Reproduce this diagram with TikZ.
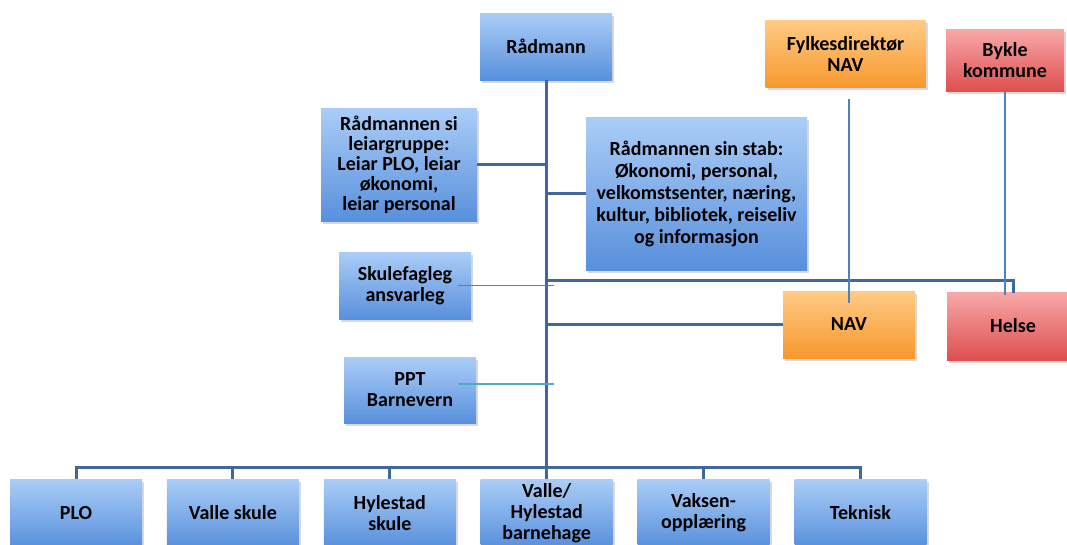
\documentclass[tikz,border=0pt]{standalone}
\usepackage{fontspec}
\setmainfont{Carlito}
\usetikzlibrary{positioning,shadows}
\definecolor{bluetop}{HTML}{ABCDF7}
\definecolor{bluebot}{HTML}{5890DC}
\definecolor{orangetop}{HTML}{FFCB85}
\definecolor{orangebot}{HTML}{F7982E}
\definecolor{redtop}{HTML}{F8A8A8}
\definecolor{redbot}{HTML}{DE4F4F}
\definecolor{trunkcol}{HTML}{41689A}
\definecolor{thincol}{HTML}{4F81BD}
\definecolor{tealcol}{HTML}{4BACC6}
\begin{document}
\begin{tikzpicture}[x=1pt, y=-1pt, node distance=24.5pt,
    unitbox/.style = {top color=bluetop, bottom color=bluebot, minimum width=132pt, minimum height=67pt,
        align=center, inner sep=1pt, font=\fontsize{20}{21}\selectfont\bfseries,
        drop shadow={shadow xshift=2pt, shadow yshift=-2.5pt, opacity=0.3}},
    navbox/.style = {unitbox, top color=orangetop, bottom color=orangebot},
    bykbox/.style = {unitbox, top color=redtop, bottom color=redbot},
    trunk/.style = {draw=trunkcol, line width=3pt},
    thinline/.style = {draw=thincol, line width=1.8pt}]
    \useasboundingbox (0,0) rectangle (1067,544);

    \node[unitbox] (radmann) at (546,46.5) {Rådmann};
    \node[navbox, minimum width=160pt] (fylke) at (845.5,54) {Fylkesdirektør\\NAV};
    \node[bykbox, minimum width=118pt, minimum height=62pt] (bykle) at (1005,60) {Bykle\\kommune};
    \node[unitbox, minimum width=156pt, minimum height=113pt, font=\fontsize{20}{20}\selectfont\bfseries] (leiar) at (399,164.5)
        {Rådmannen si\\leiargruppe:\\Leiar PLO, leiar\\økonomi,\\leiar personal};
    \node[unitbox, minimum width=221pt, minimum height=153pt, font=\fontsize{20}{22}\selectfont\bfseries] (stab) at (696.5,193.5)
        {Rådmannen sin stab:\\Økonomi, personal,\\velkomstsenter, næring,\\kultur, bibliotek, reiseliv\\og informasjon};
    \node[unitbox] (skule) at (405,285.5) {Skulefagleg\\ansvarleg};
    \node[unitbox, minimum height=66pt] (ppt) at (410,390) {PPT\\Barnevern};
    \node[navbox] (nav) at (849,324.5) {NAV};
    \node[bykbox, minimum height=68pt] (helse) at (1013,326) {Helse};

    % einingane nedst
    \node[unitbox, minimum height=68pt] (plo) at (76,513) {PLO};
    \node[unitbox, minimum height=68pt] (valle) [right=of plo] {Valle skule};
    \node[unitbox, minimum height=68pt] (hylestad) [right=of valle] {Hylestad\\skule};
    \node[unitbox, minimum height=68pt] (barnehage) [right=of hylestad] {Valle/\\Hylestad\\barnehage};
    \node[unitbox, minimum height=68pt] (vaksen) [right=of barnehage] {Vaksen-\\opplæring};
    \node[unitbox, minimum height=68pt] (teknisk) [right=of vaksen] {Teknisk};

    \coordinate (bar) at (546,467);
    \coordinate (tver) at (546,280);

    \draw[trunk] (radmann.south) -- (bar);
    \foreach \b in {plo,valle,hylestad,barnehage,vaksen,teknisk}
        \draw[trunk] (bar) -| (\b.north);
    \draw[trunk] (leiar.east) -- (leiar.east -| radmann.south);
    \draw[trunk] (stab.west) -- (stab.west -| radmann.south);
    \draw[trunk] (nav.west) -- (nav.west -| radmann.south);
    \draw[trunk] (tver) -| ([yshift=-1pt]helse.north);

    \draw[thinline] ([xshift=-13pt]skule.east) -- ([xshift=8pt]skule.east -| radmann.south);
    \draw[thinline, draw=tealcol] ([xshift=-18pt,yshift=6pt]ppt.east) -- ([xshift=8pt,yshift=6pt]ppt.east -| radmann.south);
    \draw[thinline] ([yshift=-11pt]fylke.south -| nav.north) -- ([yshift=-12pt]nav.north);
    \draw[thinline] (bykle.south) -- ([yshift=-3pt]bykle.south |- helse.north);

\end{tikzpicture}
\end{document}
